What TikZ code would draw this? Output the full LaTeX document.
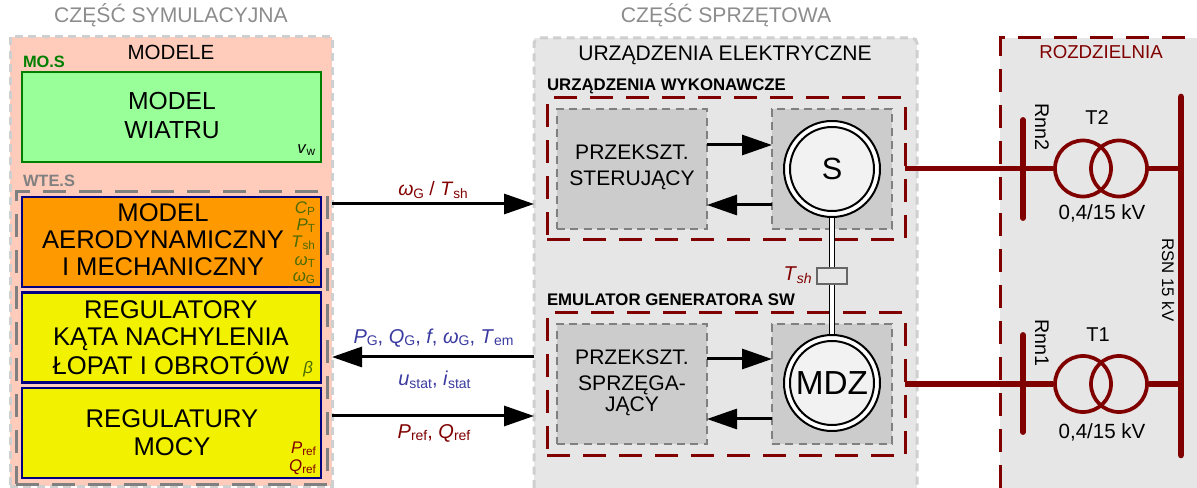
\documentclass[tikz,border=0pt]{standalone}
\usepackage{fontspec}
\usepackage{graphicx}
\setmainfont{Liberation Sans}
\usetikzlibrary{arrows.meta,calc}
\definecolor{simfill}{HTML}{FFCCBC}
\definecolor{hwfill}{HTML}{E6E6E6}
\definecolor{innerfill}{HTML}{CCCCCC}
\definecolor{dashlight}{HTML}{CFCFCF}
\definecolor{dashgray}{HTML}{808080}
\definecolor{darkred}{HTML}{800000}
\definecolor{headgray}{HTML}{8C8C8C}
\definecolor{dkgreen}{HTML}{007F00}
\definecolor{lgreen}{HTML}{99FF99}
\definecolor{orng}{HTML}{FF9900}
\definecolor{yell}{HTML}{F2F200}
\definecolor{navy}{HTML}{000080}
\definecolor{olive}{HTML}{4A6B00}
\definecolor{sigblue}{HTML}{3A3AA0}
\newcommand{\sbs}[1]{\raisebox{-.25ex}{\scalebox{.7}{#1}}}
\newcommand{\iv}[1]{\textit{#1}}
\tikzset{
  fs/.style={font=\fontsize{#1}{#1}\selectfont},
  captext/.style={text height=0.716em,text depth=0pt,inner sep=0pt,outer sep=0pt},
  mline/.style={align=center,inner sep=0pt,outer sep=0pt},
  wbox/.style={rectangle,draw,line width=2.1pt,inner sep=0pt},
  outerdash/.style={rectangle,inner sep=0pt,outer sep=0pt,draw=dashlight,line width=2.25pt,dash pattern=on 6pt off 4pt},
  reddash/.style={rectangle,inner sep=0pt,outer sep=0pt,draw=darkred,line width=2.25pt,dash pattern=on 17pt off 10pt},
  graydash/.style={rectangle,inner sep=0pt,draw=dashgray,line width=2.25pt,dash pattern=on 17pt off 10pt},
  conv/.style={rectangle,inner sep=0pt,outer sep=0pt,fill=innerfill,draw=dashgray,line width=1.9pt,dash pattern=on 6pt off 4pt},
  sig/.style={-{Triangle[length=22.5pt,width=15pt]},line width=2.25pt,black},
  machout/.style={circle,draw=black,fill=white,line width=1.5pt,inner sep=0pt,minimum size=72pt},
  machin/.style={circle,draw=black,fill=white!95!black,line width=1.5pt,inner sep=0pt,minimum size=63pt},
  bus/.style={line width=4.4pt,darkred,line cap=round},
  wire/.style={line width=3.9pt,darkred},
  trafo/.style={circle,draw=darkred,line width=2.8pt,inner sep=0pt,minimum size=42pt},
  smallr/.style={fs=12.6,captext,anchor=east}
}
\begin{document}
\begin{tikzpicture}[x=0.75pt,y=-0.75pt]
\useasboundingbox (0,0) rectangle (1197,488);
% headings
\node[fs=15.85,captext,text=headgray] (hsim) at (171,18) {CZĘŚĆ SYMULACYJNA};
\node[fs=15.85,captext,text=headgray] (hhw) at (726,18) {CZĘŚĆ SPRZĘTOWA};
% left panel
\node[outerdash,fill=simfill,minimum width=241.5pt,minimum height=336.75pt] (sim) at (171,261.5) {};
\node[fs=15.4,captext] (tmod) at (171,55) {MODELE};
\node[fs=12.3,captext,text=dkgreen,anchor=west] (tmos) at (23,63) {\textbf{MO.S}};
\node[wbox,draw=dkgreen,fill=lgreen,minimum width=224.25pt,minimum height=67.5pt] (wind) at (171.5,117) {};
\node[mline,fs=18.5] (twind) at (172,115.5) {MODEL\\[3.4pt]WIATRU};
\node[smallr] (vw) at (315,149) {\iv{v}\sbs{w}};
\node[fs=12.3,captext,text=dashgray,anchor=west] (twte) at (23,182) {\textbf{WTE.S}};
\node[graydash,minimum width=233.25pt,minimum height=219pt] (wte) at (171.5,338) {};
\node[wbox,draw=navy,fill=orng,minimum width=224.25pt,minimum height=67.5pt] (aero) at (171.5,242) {};
\node[mline,fs=19.2] (taero) at (163,240) {MODEL\\[1pt]AERODYNAMICZNY\\[1pt]I MECHANICZNY};
\node[wbox,draw=navy,fill=yell,minimum width=224.25pt,minimum height=67.5pt] (reg1) at (171.5,337.5) {};
\node[mline,fs=19.2] (treg1) at (171,337.5) {REGULATORY\\[1.5pt]KĄTA NACHYLENIA\\[0pt]ŁOPAT I OBROTÓW};
\node[wbox,draw=navy,fill=yell,minimum width=224.25pt,minimum height=67.5pt] (reg2) at (171.5,433) {};
\node[mline,fs=19.2] (treg2) at (172,433) {REGULATURY\\[2pt]MOCY};
\node[smallr,text=olive] (cp) at (315,209) {\iv{C}\sbs{P}};
\node[smallr,text=olive] (pt) at (315,226) {\iv{P}\sbs{T}};
\node[smallr,text=olive] (tsh1) at (315,243) {\iv{T}\sbs{sh}};
\node[smallr,text=olive] (wt) at (315,260.5) {\iv{ω}\sbs{T}};
\node[smallr,text=olive] (wg) at (315,277) {\iv{ω}\sbs{G}};
\node[smallr,text=olive] (beta) at (313,369) {\iv{β}};
\node[smallr,text=darkred] (pref) at (316,449) {\iv{P}\sbs{ref}};
\node[smallr,text=darkred] (qref) at (316,467) {\iv{Q}\sbs{ref}};
% middle panel
\fill[hwfill] (534,38) rectangle (917,488);
\coordinate (hwa) at (534,488);
\coordinate (hwb) at (534,38);
\coordinate (hwc) at (917,38);
\coordinate (hwd) at (917,488);
\draw[draw=dashlight,line width=2.25pt,dash pattern=on 6pt off 4pt,rounded corners=4pt] (hwa) -- (hwb) -- (hwc) -- (hwd);
\node[fs=15.8,captext] (thw) at (725,56) {URZĄDZENIA ELEKTRYCZNE};
\node[fs=12.6,captext,anchor=west] (tw) at (547,86) {\textbf{URZĄDZENIA WYKONAWCZE}};
\node[reddash,minimum width=268.5pt,minimum height=106.5pt] (wyk) at (726,169) {};
\node[conv,minimum width=112.5pt,minimum height=90pt] (c1) at (632,169) {};
\node[mline,fs=15.8] (tc1) at (632,167) {PRZEKSZT.\\[4pt]STERUJĄCY};
\node[conv,minimum width=90pt,minimum height=90pt] (c2) at (832,169) {};
\node[fs=12.6,captext,anchor=west] (te) at (547,301) {\textbf{EMULATOR GENERATORA SW}};
\node[reddash,minimum width=268.5pt,minimum height=107.25pt] (emu) at (726,384.5) {};
\node[conv,minimum width=112.5pt,minimum height=90pt] (c3) at (632,384) {};
\node[mline,fs=15.8] (tc3) at (632,383) {PRZEKSZT.\\[3.5pt]SPRZĘGA-\\[0pt]JĄCY};
\node[conv,minimum width=90pt,minimum height=90pt] (c4) at (832,384) {};
\node[machout] (so) at (832,169) {};
\node[machin,fs=23] (si) at (832,169) {S};
\node[machout] (mo) at (832,383) {};
\node[machin,fs=25] (mi) at (832,383) {MDZ};
\draw[double=white,double distance=2.6pt,line width=1.3pt,black] (so.south) -- (mo.north);
\node[rectangle,draw=black!60,fill=hwfill,line width=1.1pt,inner sep=0pt,minimum width=22.5pt,minimum height=12pt] (sh) at (832,276) {};
\node[fs=15,text=darkred,anchor=east,inner sep=0pt] (tsh) at (812,275) {\iv{T}\sbs{\iv{sh}}};
\draw[sig] (c1.east |- 0,145) -- (c2.west |- 0,145);
\draw[sig] (c2.west |- 0,205) -- (c1.east |- 0,205);
\draw[sig] (c3.east |- 0,359) -- (c4.west |- 0,359);
\draw[sig] (c4.west |- 0,419) -- (c3.east |- 0,419);
% right panel
\fill[hwfill] (1000,38) rectangle (1197,488);
\coordinate (ra) at (1000,488);
\coordinate (rb) at (1000,38);
\coordinate (rc) at (1197,38);
\draw[draw=darkred,line width=2.25pt,dash pattern=on 17pt off 10pt] (ra) -- (rb) -- (rc);
\node[fs=14,captext,text=darkred] (troz) at (1101,54) {ROZDZIELNIA};
\coordinate (b2a) at (1023,120); \coordinate (b2b) at (1023,218);
\coordinate (b1a) at (1023,335); \coordinate (b1b) at (1023,432);
\coordinate (rsa) at (1181,97); \coordinate (rsb) at (1181,455);
\node[trafo] (t2a) at (1083,168.5) {};
\node[trafo] (t2b) at (1119,168.5) {};
\node[trafo] (t1a) at (1083,384) {};
\node[trafo] (t1b) at (1119,384) {};
\draw[wire] (wyk.east |- t2a.west) -- (t2a.west);
\draw[wire] (emu.east |- t1a.west) -- (t1a.west);
\draw[wire] (t2b.east) -- (rsa |- t2b.east);
\draw[wire] (t1b.east) -- (rsa |- t1b.east);
\draw[bus] (b2a) -- (b2b);
\draw[bus] (b1a) -- (b1b);
\draw[bus,line width=5pt] (rsa) -- (rsb);
\node[fs=14.8,captext,rotate=-90] (r2) at (1040,127) {Rnn2};
\node[fs=14.8,captext,rotate=-90] (r1) at (1040,343) {Rnn1};
\node[fs=12.6,captext,rotate=-90] (rsn) at (1167,280) {RSN 15 kV};
\node[fs=15,captext] (t2) at (1097,120) {T2};
\node[fs=15,captext] (t1) at (1098,337) {T1};
\node[fs=15.4,captext] (k2) at (1102,215) {0,4/15 kV};
\node[fs=15.4,captext] (k1) at (1102,434) {0,4/15 kV};
% inter-panel connectors
\draw[sig] (sim.east |- 0,204) -- (hwb |- 0,204);
\draw[sig] (hwb |- 0,357) -- (sim.east |- 0,357);
\draw[sig] (sim.east |- 0,416) -- (hwb |- 0,416);
\node[fs=14.6,text=darkred,inner sep=0pt] (l1) at (433,190) {\iv{ω}\sbs{G} / \iv{T}\sbs{sh}};
\node[fs=15,text=sigblue,inner sep=0pt] (l2) at (433.5,338) {\iv{P}\sbs{G}, \iv{Q}\sbs{G}, \iv{f}, \iv{ω}\sbs{G}, \iv{T}\sbs{em}};
\node[fs=15,text=sigblue,inner sep=0pt] (l3) at (434.5,380) {\iv{u}\sbs{stat}, \iv{i}\sbs{stat}};
\node[fs=15,text=darkred,inner sep=0pt] (l4) at (434,433) {\iv{P}\sbs{ref}, \iv{Q}\sbs{ref}};
\end{tikzpicture}
\end{document}
